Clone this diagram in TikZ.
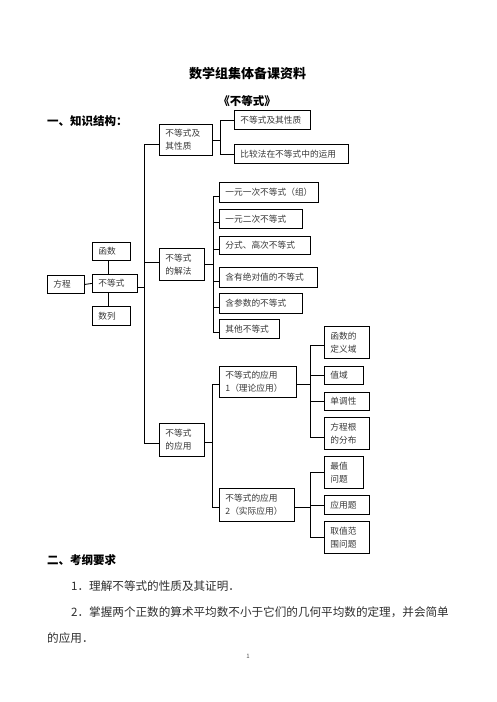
\documentclass[tikz,border=0pt]{standalone}
\usepackage{fontspec}
\setmainfont{Noto Sans CJK SC}
\begin{document}
\begin{tikzpicture}[x=1pt,y=-1pt,
  ln/.style={draw=black, line width=0.85pt},
  bx/.style={draw=black, line width=0.85pt, inner xsep=6pt, inner ysep=0pt,
    align=left, anchor=north west, text=black!78,
    font=\fontsize{8.7}{13}\selectfont},
  bw/.code={\pgfmathsetmacro\bwtw{#1-12}\tikzset{minimum width=#1pt,text width=\bwtw pt}},
  bh/.style={minimum height=#1pt},
  ttl/.style={inner sep=0pt, font=\bfseries\fontsize{13}{13}\selectfont},
  hd/.style={inner sep=0pt, anchor=west, font=\bfseries\fontsize{11.5}{11.5}\selectfont},
  body/.style={inner sep=0pt, anchor=west, text=black!82, font=\fontsize{11.6}{11.6}\selectfont}]
\useasboundingbox (0,0) rectangle (496,702);

% headings and text
\node[ttl] (t1) at (247.5,74) {数学组集体备课资料};
\node[ttl, font=\bfseries\fontsize{11.5}{11.5}\selectfont] (t2) at (247,101) {《不等式》};
\node[hd] (h1) at (47,121) {一、知识结构：};
\node[hd] (h2) at (47,560) {二、考纲要求};
\node[body] (p1) at (71,586) {1．理解不等式的性质及其证明．};
\node[body] (p2) at (71,612) {2．掌握两个正数的算术平均数不小于它们的几何平均数的定理，并会简单};
\node[body] (p3) at (47,638) {的应用．};
\node[inner sep=0pt, text=black!70, font=\fontsize{6}{6}\selectfont] (pg) at (248,656) {1};

% boxes
\node[bx, bw=53, bh=31] (A1) at (159,124) {不等式及\\其性质};
\node[bx, bw=76, bh=19] (A1a) at (234,110) {不等式及其性质};
\node[bx, bw=114, bh=19] (A1b) at (234,144) {比较法在不等式中的运用};

\node[bx, bw=37, bh=18] (FC) at (47,275) {方程};
\node[bx, bw=45, bh=18] (BD) at (92,274) {不等式};
\node[bx, bw=38, bh=18] (HS) at (92,242) {函数};
\node[bx, bw=38, bh=19] (SL) at (92,306) {数列};

\node[bx, bw=45, bh=32] (B) at (159,248) {不等式\\的解法};
\node[bx, bw=99, bh=20] (B1) at (219,182) {一元一次不等式（组）};
\node[bx, bw=83, bh=19] (B2) at (219,209) {一元二次不等式};
\node[bx, bw=91, bh=18] (B3) at (219,236) {分式、高次不等式};
\node[bx, bw=98, bh=20] (B4) at (219,267) {含有绝对值的不等式};
\node[bx, bw=83, bh=20] (B5) at (219,293) {含参数的不等式};
\node[bx, bw=60, bh=19] (B6) at (219,319) {其他不等式};

\node[bx, bw=45, bh=33] (C) at (159,423) {不等式\\的应用};
\node[bx, bw=77, bh=31] (C1) at (219,366) {不等式的应用\\1（理论应用）};
\node[bx, bw=75, bh=33] (C2) at (219,488) {不等式的应用\\2（实际应用）};

\node[bx, bw=45, bh=32] (D1) at (324,326) {函数的\\定义域};
\node[bx, bw=39, bh=18] (D2) at (324,366) {值域};
\node[bx, bw=45, bh=18] (D3) at (324,392) {单调性};
\node[bx, bw=45, bh=32] (D4) at (324,417) {方程根\\的分布};

\node[bx, bw=39, bh=32] (E1) at (324,456) {最值\\问题};
\node[bx, bw=45, bh=19] (E2) at (324,495) {应用题};
\node[bx, bw=45, bh=32] (E3) at (324,521) {取值范\\围问题};

% hub coordinates
\coordinate (mtop) at (144,144);
\coordinate (mbot) at (144,443);
\coordinate (vx) at (108,0);
\coordinate (ha) at (220,0);
\coordinate (hb) at (213,0);
\coordinate (hc) at (212,0);
\coordinate (hdd) at (310,0);

% main trunk
\draw[ln] (A1.west |- mtop) -- (mtop) -- (mbot) -- (C.west |- mbot);
\draw[ln] ([yshift=2.5pt]B.west) -- ([yshift=2.5pt]B.west -| mtop);
\draw[ln] ([yshift=-3.5pt]BD.east) -- ([yshift=-3.5pt]BD.east -| mtop);

% centre cluster
\draw[ln] (FC.east) -- (BD.west);
\draw[ln] (HS.south -| vx) -- (BD.north -| vx);
\draw[ln] (BD.south -| vx) -- (SL.north -| vx);

% properties group
\draw[ln] (A1.east) -- (A1.east -| ha);
\draw[ln] (A1a.west) -- (A1a.west -| ha) -- (A1b.west -| ha) -- (A1b.west);

% solving group
\draw[ln] (B.east) -- (B.east -| hb);
\draw[ln] ([yshift=-3.5pt]B1.west) -- ([yshift=-3.5pt]B1.west -| hb) -- ([yshift=-3.5pt]B6.west -| hb) -- ([yshift=-3.5pt]B6.west);
\foreach \n in {B2,B3,B4,B5} \draw[ln] ([yshift=-3.5pt]\n.west) -- ([yshift=-3.5pt]\n.west -| hb);

% application group
\draw[ln] ([yshift=-2pt]C.east) -- ([yshift=-2pt]C.east -| hc);
\draw[ln] ([yshift=-2.5pt]C1.west) -- ([yshift=-2.5pt]C1.west -| hc) -- ([yshift=-2.5pt]C2.west -| hc) -- ([yshift=-2.5pt]C2.west);

\draw[ln] ([yshift=-2.5pt]C1.east) -- ([yshift=-2.5pt]C1.east -| hdd);
\draw[ln] ([yshift=-3pt]D1.west) -- ([yshift=-3pt]D1.west -| hdd) -- ([yshift=-3.5pt]D4.west -| hdd) -- ([yshift=-3.5pt]D4.west);
\foreach \n in {D2,D3} \draw[ln] (\n.west) -- (\n.west -| hdd);

\draw[ln] ([yshift=-2.5pt]C2.east) -- ([yshift=-2.5pt]C2.east -| hdd);
\draw[ln] (E1.west) -- (E1.west -| hdd) -- (E3.west -| hdd) -- (E3.west);
\draw[ln] (E2.west) -- (E2.west -| hdd);
\end{tikzpicture}
\end{document}
